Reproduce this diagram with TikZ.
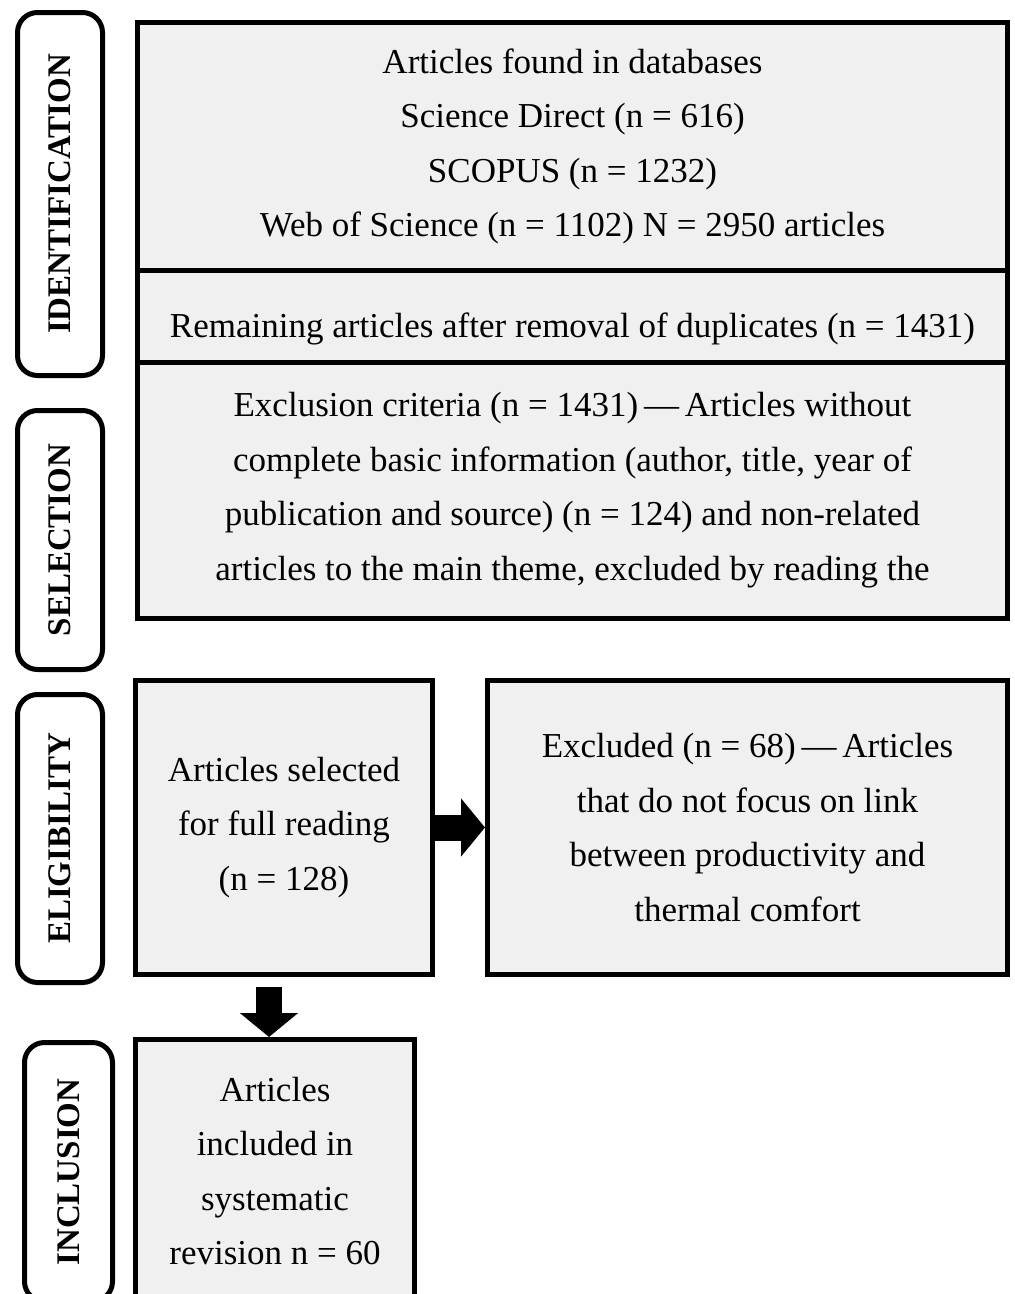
\documentclass[tikz,border=0pt]{standalone}
\usepackage{fontspec}
\setmainfont{Liberation Serif}
\usetikzlibrary{arrows.meta,positioning,calc}
\definecolor{boxgray}{RGB}{240,240,240}

\begin{document}
\begin{tikzpicture}[x=1pt, y=-1pt,
    stagebox/.style={rectangle, draw=black, line width=5pt, fill=boxgray,
      inner sep=0pt, align=center, font=\fontsize{35}{54.5}\selectfont},
    phasebox/.style={rectangle, rounded corners=20pt, draw=black, line width=5pt,
      fill=white, rotate=90, inner sep=0pt, font=\fontsize{33}{40}\selectfont\bfseries},
    blockarrow/.style={line width=26pt, -{Triangle[width=57pt, length=24pt]}}]
    \useasboundingbox (0,0) rectangle (1015,1294);
    \clip (0,0) rectangle (1015,1294);

    % phase labels on the left
    \node[phasebox, minimum width=363pt, minimum height=85pt] (ident) at (60,194) {IDENTIFICATION};
    \node[phasebox, minimum width=259pt, minimum height=85pt] (selec) at (60,540) {SELECTION};
    \node[phasebox, minimum width=288pt, minimum height=85pt] (elig) at (60,838.5) {ELIGIBILITY};
    \node[phasebox, minimum width=259pt, minimum height=88pt] (inclu) at (68.5,1172) {INCLUSION};

    % identification and selection boxes
    \node[stagebox, minimum width=870pt, minimum height=247.5pt] (found) at (572.5,146.25)
      {Articles found in databases\\Science Direct (n = 616)\\SCOPUS (n = 1232)\\
       Web of Science (n = 1102) N = 2950 articles};
    \node[stagebox, minimum width=870pt, minimum height=92pt, text height=50pt, text depth=8pt]
      (dupl) at (572.5,316) {Remaining articles after removal of duplicates (n = 1431)};
    \node[stagebox, minimum width=870pt, minimum height=256pt] (crit) at (572.5,490)
      {Exclusion criteria (n = 1431)\,—\,Articles without\\
       complete basic information (author, title, year of\\
       publication and source) (n = 124) and non-related\\
       articles to the main theme, excluded by reading the};

    % eligibility
    \node[stagebox, minimum width=297pt, minimum height=294pt] (sel) at (284,827.5)
      {Articles selected\\for full reading\\(n = 128)};
    \node[stagebox, minimum width=520pt, minimum height=294pt] (excl) at (747.5,827.5)
      {Excluded (n = 68)\,—\,Articles\\that do not focus on link\\
       between productivity and\\thermal comfort};

    % inclusion
    \node[stagebox, minimum width=279pt, minimum height=263pt] (incl) at (275,1171)
      {Articles\\included in\\systematic\\revision n = 60};

    % arrows
    \draw[blockarrow] (sel.east) -- (excl.west);
    \draw[blockarrow] ([xshift=-15pt, yshift=-10pt]sel.south) -- ([xshift=-15pt]sel.south |- incl.north);
\end{tikzpicture}
\end{document}
